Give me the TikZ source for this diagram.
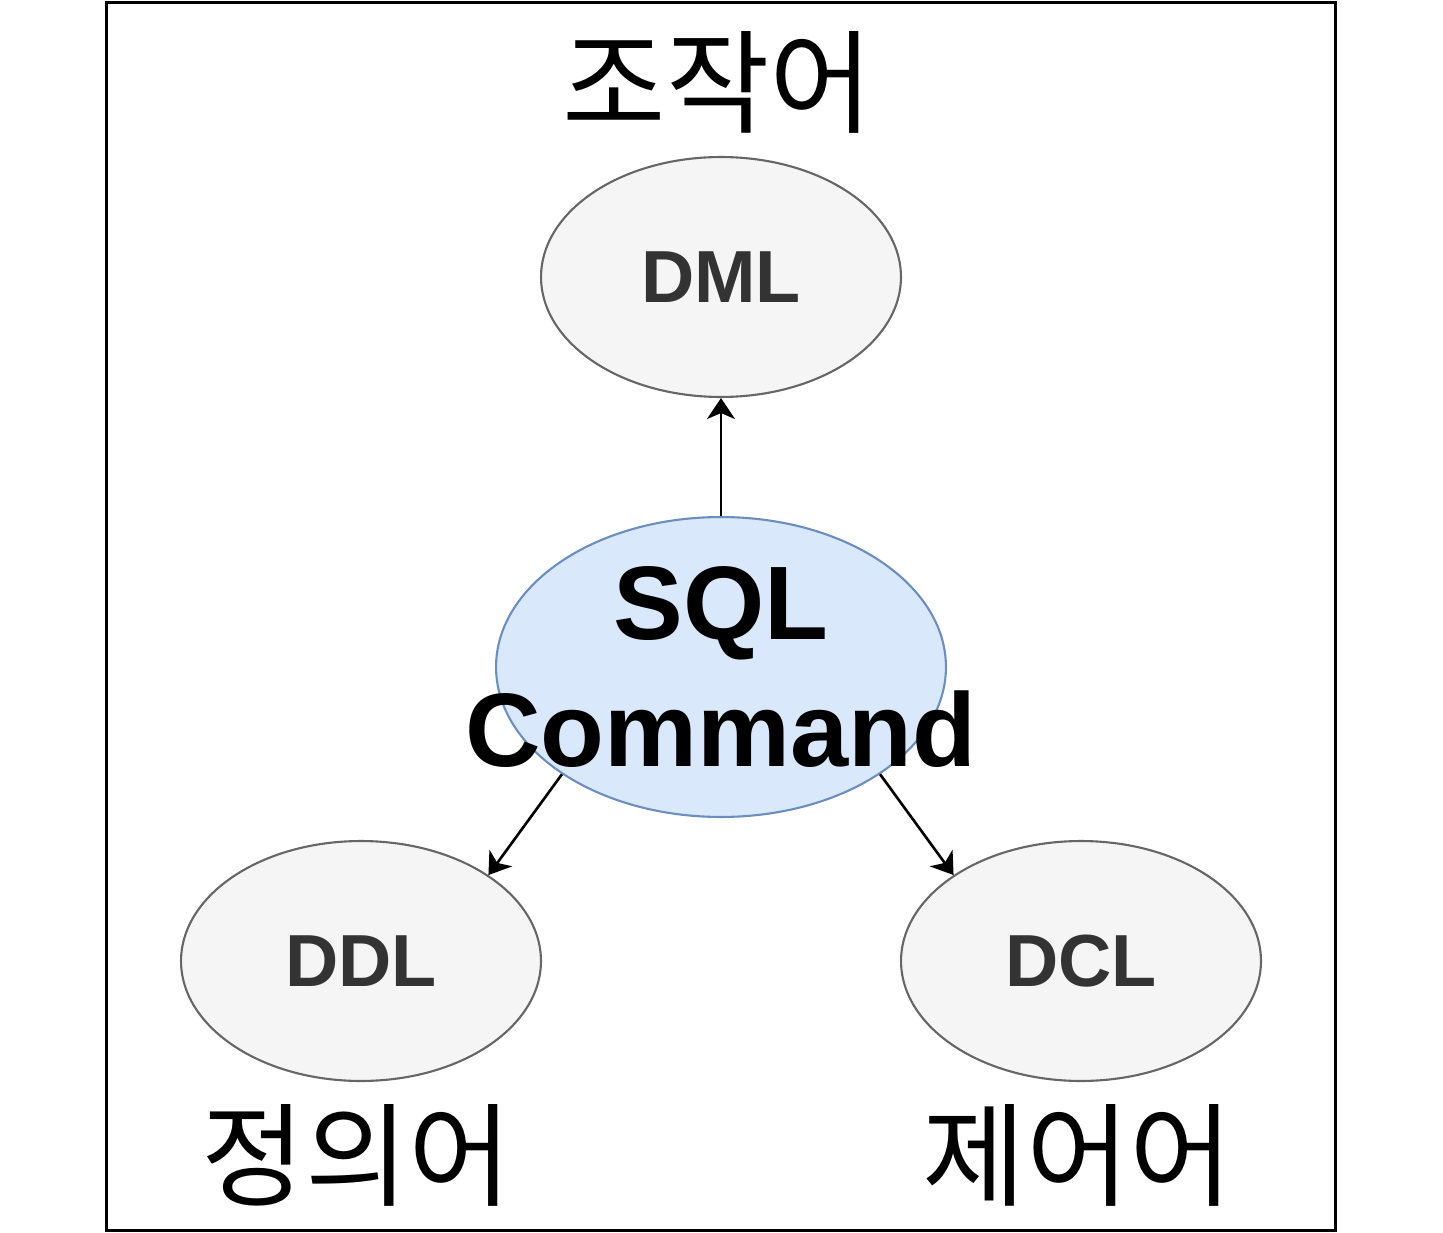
\documentclass[tikz,border=0pt]{standalone}
\usepackage{fontspec}
\setmainfont{Liberation Sans}
\newfontfamily\kofont{Noto Sans CJK KR}
\usetikzlibrary{shapes.geometric,arrows.meta}
\definecolor{subfill}{HTML}{F5F5F5}
\definecolor{subline}{HTML}{666666}
\definecolor{subtext}{HTML}{333333}
\definecolor{mainfill}{HTML}{DAE8FC}
\definecolor{mainline}{HTML}{6C8EBF}
\tikzset{sub/.style={ellipse,draw=subline,fill=subfill,line width=1.2pt,inner sep=0pt,minimum width=7.2cm,minimum height=4.8cm,text=subtext,font=\fontsize{42}{50}\selectfont\bfseries},
main/.style={ellipse,draw=mainline,fill=mainfill,line width=1.2pt,inner sep=0pt,minimum width=9cm,minimum height=6cm},
kor/.style={inner sep=0pt,font=\kofont\fontsize{64}{76}\selectfont},
arr/.style={line width=1.5pt,-{Stealth[length=0.42cm,width=0.56cm,inset=0.12cm]}}}
\begin{document}
\begin{tikzpicture}[x=0.02cm, y=-0.02cm]
\useasboundingbox (0,0) rectangle (1443,1233);
\draw[line width=0.06cm] (106.5,2.5) rectangle (1335.5,1230.5);
\node[main] (sql) at (721,667) {};
\node[align=center,inner sep=0pt,font=\fontsize{59.5}{72}\selectfont\bfseries] (sqltext) at (721,667) {SQL\\Command};
\node[sub] (dml) at (721,277) {DML};
\node[sub] (ddl) at (361,961) {DDL};
\node[sub] (dcl) at (1081,961) {DCL};
\node[kor] (dmlname) at (718,82) {조작어};
\node[kor] (ddlname) at (357,1155) {정의어};
\node[kor] (dclname) at (1078,1155) {제어어};
\draw[arr] (sql.north) -- (dml.south);
\draw[arr] (sql.214) -- (ddl.34);
\draw[arr] (sql.326) -- (dcl.146);
\end{tikzpicture}
\end{document}
